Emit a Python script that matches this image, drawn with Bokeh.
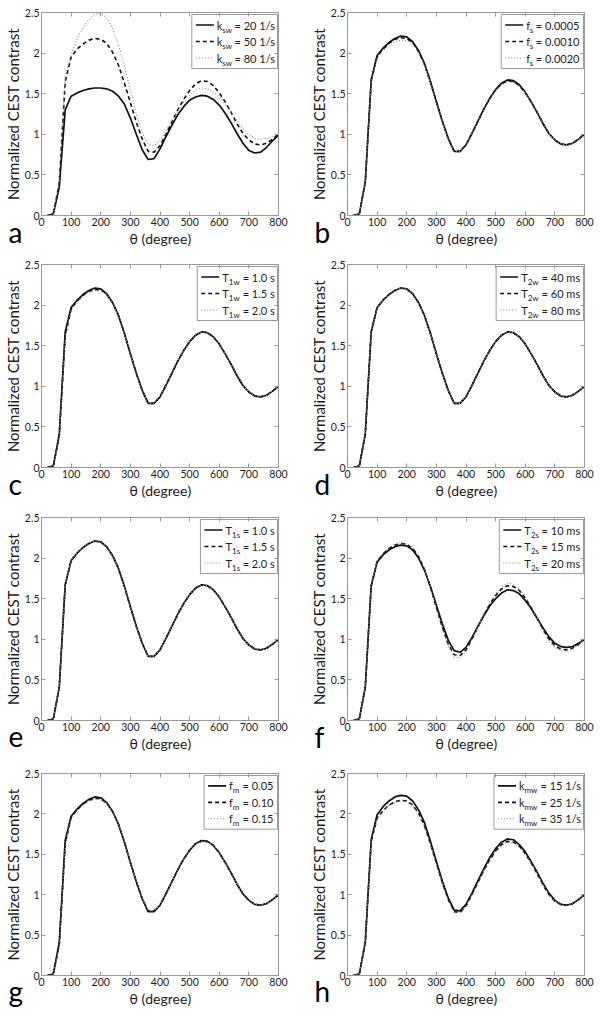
from bokeh.plotting import figure
from bokeh.layouts import column, row
from bokeh.models import Range1d, FixedTicker, LinearAxis, Label, CustomJSTickFormatter
from bokeh.core.properties import value
from bokeh.embed import file_html
from bokeh.resources import INLINE

# ---------------- data ----------------
theta = [20, 40, 60, 80, 100, 120, 140, 160, 180, 200, 220, 240, 260, 280, 300, 320, 340, 360, 380, 400,
         420, 440, 460, 480, 500, 520, 540, 560, 580, 600, 620, 640, 660, 680, 700, 720, 740, 760, 780, 800]

x_ticks = [0, 100, 200, 300, 400, 500, 600, 700, 800]
y_ticks = [0, 0.5, 1, 1.5, 2, 2.5]

base = [0.00, 0.02, 0.41, 1.67, 1.97, 2.06, 2.13, 2.18, 2.21, 2.20, 2.14, 2.03, 1.87, 1.65, 1.40, 1.16, 0.95, 0.79, 0.79, 0.87,
        1.01, 1.16, 1.31, 1.44, 1.55, 1.63, 1.67, 1.66, 1.61, 1.52, 1.40, 1.27, 1.13, 1.01, 0.93, 0.88, 0.87, 0.89, 0.94, 1.00]

# (a) k_sw
a_k20 = [0.00, 0.02, 0.35, 1.30, 1.47, 1.51, 1.54, 1.56, 1.57, 1.57, 1.56, 1.53, 1.47, 1.37, 1.20, 1.00, 0.81, 0.69, 0.70, 0.82,
         0.97, 1.11, 1.24, 1.34, 1.42, 1.46, 1.48, 1.47, 1.43, 1.36, 1.26, 1.14, 1.01, 0.89, 0.80, 0.77, 0.78, 0.84, 0.92, 0.99]
a_k50 = [0.00, 0.02, 0.40, 1.65, 1.95, 2.05, 2.11, 2.16, 2.18, 2.17, 2.12, 2.01, 1.85, 1.63, 1.39, 1.15, 0.94, 0.79, 0.78, 0.86,
         1.00, 1.15, 1.30, 1.43, 1.54, 1.62, 1.66, 1.65, 1.60, 1.51, 1.40, 1.27, 1.13, 1.01, 0.93, 0.88, 0.87, 0.89, 0.94, 1.00]
a_k80 = [0.00, 0.02, 0.42, 1.72, 1.98, 2.18, 2.31, 2.41, 2.48, 2.49, 2.44, 2.31, 2.10, 1.84, 1.54, 1.25, 1.02, 0.88, 0.86, 0.92,
         1.04, 1.17, 1.29, 1.40, 1.48, 1.54, 1.57, 1.56, 1.52, 1.46, 1.37, 1.27, 1.17, 1.07, 1.00, 0.95, 0.94, 0.95, 0.97, 1.00]

# (b) f_s
b_1 = base
b_2 = [0.00, 0.02, 0.41, 1.66, 1.96, 2.05, 2.12, 2.17, 2.19, 2.18, 2.13, 2.02, 1.86, 1.64, 1.40, 1.16, 0.95, 0.79, 0.79, 0.87,
       1.01, 1.16, 1.31, 1.44, 1.55, 1.62, 1.66, 1.65, 1.60, 1.51, 1.40, 1.27, 1.13, 1.01, 0.93, 0.88, 0.87, 0.89, 0.94, 1.00]
b_3 = [0.00, 0.02, 0.40, 1.64, 1.94, 2.03, 2.09, 2.14, 2.16, 2.15, 2.11, 2.01, 1.85, 1.63, 1.39, 1.15, 0.95, 0.79, 0.79, 0.87,
       1.01, 1.15, 1.30, 1.43, 1.54, 1.61, 1.65, 1.64, 1.59, 1.51, 1.39, 1.27, 1.13, 1.01, 0.93, 0.88, 0.87, 0.89, 0.94, 1.00]

# (c) T_1w
c_1 = base
c_2 = [0.00, 0.02, 0.38, 1.62, 1.95, 2.05, 2.12, 2.17, 2.19, 2.19, 2.13, 2.03, 1.87, 1.65, 1.40, 1.16, 0.95, 0.79, 0.79, 0.87,
       1.01, 1.16, 1.31, 1.44, 1.55, 1.63, 1.67, 1.66, 1.61, 1.52, 1.40, 1.27, 1.13, 1.01, 0.93, 0.88, 0.87, 0.89, 0.94, 1.00]
c_3 = [0.00, 0.02, 0.36, 1.60, 1.94, 2.04, 2.11, 2.16, 2.18, 2.18, 2.13, 2.02, 1.86, 1.65, 1.40, 1.16, 0.95, 0.79, 0.79, 0.87,
       1.01, 1.16, 1.31, 1.44, 1.55, 1.63, 1.67, 1.66, 1.61, 1.52, 1.40, 1.27, 1.13, 1.01, 0.93, 0.88, 0.87, 0.89, 0.94, 1.00]

# (d) T_2w  (curves coincide)
d_1 = base
d_2 = base
d_3 = base

# (e) T_1s  (curves coincide)
e_1 = base
e_2 = base
e_3 = base

# (f) T_2s
f_1 = [0.00, 0.02, 0.41, 1.66, 1.95, 2.04, 2.10, 2.14, 2.16, 2.15, 2.10, 2.00, 1.85, 1.65, 1.42, 1.19, 0.99, 0.86, 0.84, 0.90,
       1.02, 1.16, 1.29, 1.41, 1.50, 1.57, 1.61, 1.60, 1.56, 1.48, 1.38, 1.26, 1.14, 1.03, 0.95, 0.91, 0.90, 0.91, 0.95, 1.00]
f_2 = [0.00, 0.02, 0.41, 1.66, 1.96, 2.05, 2.12, 2.16, 2.18, 2.17, 2.12, 2.02, 1.86, 1.64, 1.39, 1.15, 0.94, 0.81, 0.80, 0.87,
       1.00, 1.15, 1.30, 1.43, 1.54, 1.62, 1.66, 1.65, 1.60, 1.51, 1.39, 1.26, 1.12, 1.00, 0.92, 0.88, 0.87, 0.89, 0.94, 1.00]
f_3 = [0.00, 0.02, 0.41, 1.67, 1.97, 2.06, 2.13, 2.17, 2.19, 2.18, 2.13, 2.03, 1.87, 1.64, 1.38, 1.13, 0.92, 0.78, 0.77, 0.85,
       0.99, 1.15, 1.31, 1.45, 1.56, 1.64, 1.69, 1.68, 1.62, 1.53, 1.40, 1.26, 1.11, 0.98, 0.90, 0.86, 0.85, 0.88, 0.93, 1.00]

# (g) f_m
g_1 = base
g_2 = [0.00, 0.02, 0.38, 1.63, 1.96, 2.05, 2.12, 2.17, 2.19, 2.19, 2.13, 2.03, 1.87, 1.65, 1.40, 1.16, 0.95, 0.80, 0.80, 0.87,
       1.01, 1.16, 1.31, 1.44, 1.55, 1.63, 1.66, 1.66, 1.61, 1.52, 1.40, 1.27, 1.13, 1.01, 0.93, 0.88, 0.87, 0.89, 0.94, 1.00]
g_3 = [0.00, 0.02, 0.35, 1.60, 1.95, 2.04, 2.11, 2.16, 2.18, 2.18, 2.13, 2.03, 1.87, 1.65, 1.40, 1.16, 0.95, 0.81, 0.80, 0.88,
       1.01, 1.16, 1.31, 1.44, 1.55, 1.62, 1.66, 1.65, 1.61, 1.52, 1.40, 1.27, 1.13, 1.01, 0.93, 0.88, 0.87, 0.89, 0.94, 1.00]

# (h) k_mw
h_1 = [0.00, 0.02, 0.41, 1.68, 1.99, 2.09, 2.16, 2.21, 2.23, 2.22, 2.16, 2.05, 1.89, 1.66, 1.41, 1.17, 0.96, 0.81, 0.80, 0.88,
       1.02, 1.17, 1.32, 1.46, 1.57, 1.65, 1.69, 1.68, 1.62, 1.53, 1.41, 1.28, 1.14, 1.02, 0.93, 0.88, 0.87, 0.89, 0.94, 1.00]
h_2 = [0.00, 0.02, 0.41, 1.66, 1.95, 2.04, 2.11, 2.15, 2.17, 2.16, 2.11, 2.01, 1.85, 1.63, 1.39, 1.15, 0.94, 0.79, 0.78, 0.86,
       1.00, 1.15, 1.30, 1.43, 1.54, 1.62, 1.66, 1.65, 1.60, 1.51, 1.39, 1.26, 1.12, 1.00, 0.92, 0.88, 0.87, 0.89, 0.94, 1.00]
h_3 = [0.00, 0.02, 0.41, 1.65, 1.94, 2.03, 2.10, 2.14, 2.16, 2.15, 2.10, 2.00, 1.84, 1.62, 1.38, 1.14, 0.93, 0.78, 0.78, 0.86,
       0.99, 1.14, 1.29, 1.42, 1.53, 1.61, 1.65, 1.64, 1.59, 1.50, 1.39, 1.26, 1.12, 1.00, 0.92, 0.87, 0.87, 0.89, 0.94, 1.00]

panel_letters = ["a", "b", "c", "d", "e", "f", "g", "h"]
panel_series = [[a_k20, a_k50, a_k80], [b_1, b_2, b_3], [c_1, c_2, c_3], [d_1, d_2, d_3],
                [e_1, e_2, e_3], [f_1, f_2, f_3], [g_1, g_2, g_3], [h_1, h_2, h_3]]
legend_main = ["k", "f", "T", "T", "T", "T", "f", "k"]
legend_sub = ["sw", "s", "1w", "2w", "1s", "2s", "m", "mw"]
legend_rest = [["= 20 1/s", "= 50 1/s", "= 80 1/s"],
               ["= 0.0005", "= 0.0010", "= 0.0020"],
               ["= 1.0 s", "= 1.5 s", "= 2.0 s"],
               ["= 40 ms", "= 60 ms", "= 80 ms"],
               ["= 1.0 s", "= 1.5 s", "= 2.0 s"],
               ["= 10 ms", "= 15 ms", "= 20 ms"],
               ["= 0.05", "= 0.10", "= 0.15"],
               ["= 15 1/s", "= 25 1/s", "= 35 1/s"]]

x_label = "θ (degree)"
y_label = "Normalized CEST contrast"

# ---------------- styling ----------------
FONT = "Lato"
AX = "#9a9a9a"
TXT = "#1c1c1c"
X_MAX, Y_MAX = 800, 2.5
FW, FH = 237, 203
LEG_FS, SUB_FS = 11, 8

styles = [dict(line_color="#111111", line_width=1.7),
          dict(line_color="#111111", line_width=1.6, line_dash="4 3"),
          dict(line_color="#8a8a8a", line_width=1.1, line_dash="1 2")]

EM = {' ': 0.193, '=': 0.58, '.': 0.21, '/': 0.37, 's': 0.376, 'm': 0.856, 'k': 0.5,
      'f': 0.326, 'T': 0.598, 'w': 0.776}


def tw(s, fs):
    return sum(EM.get(ch, 0.58) for ch in s) * fs


def dx(px):
    return px * X_MAX / FW


def dy(px):
    return px * Y_MAX / FH


def style_axis(ax):
    ax.axis_line_color = AX
    ax.axis_line_width = 1
    ax.major_tick_line_color = AX
    ax.major_tick_in = 4
    ax.major_tick_out = 0
    ax.minor_tick_line_color = None
    ax.major_label_text_font = FONT
    ax.major_label_text_font_size = "10.5px"
    ax.major_label_text_color = TXT
    ax.major_label_standoff = 2
    ax.axis_label_text_font = FONT
    ax.axis_label_text_font_size = "14px"
    ax.axis_label_text_font_style = "normal"
    ax.axis_label_text_color = TXT
    ax.axis_label_standoff = 1


tops = [12, 5, 5, 5]
bottoms = [44, 45, 48, 33]


def make_panel(i):
    col = i % 2
    r = i // 2
    left_b = 41 if col == 0 else 47
    right_b = 22 if col == 0 else 17
    top_b = tops[r]
    bot_b = bottoms[r]
    p = figure(width=left_b + FW + right_b, height=top_b + FH + bot_b,
               x_range=Range1d(0, X_MAX), y_range=Range1d(0, Y_MAX),
               output_backend="svg", toolbar_location=None,
               min_border_left=left_b, min_border_right=right_b,
               min_border_top=top_b, min_border_bottom=bot_b,
               x_axis_label=x_label, y_axis_label=y_label)
    p.outline_line_color = None
    p.xgrid.visible = False
    p.ygrid.visible = False
    p.background_fill_color = "white"
    p.border_fill_color = "white"

    p.xaxis.ticker = FixedTicker(ticks=x_ticks)
    p.yaxis.ticker = FixedTicker(ticks=y_ticks)
    p.yaxis.formatter = CustomJSTickFormatter(code="return tick.toString();")
    for ax in list(p.xaxis) + list(p.yaxis):
        style_axis(ax)
    p.yaxis.axis_label_text_font_size = "15px"
    p.yaxis.axis_label_standoff = 0

    for loc, tk in (("above", x_ticks), ("right", y_ticks)):
        ax = LinearAxis(ticker=FixedTicker(ticks=tk),
                        formatter=CustomJSTickFormatter(code="return '';"))
        style_axis(ax)
        ax.major_label_text_font_size = "1px"
        ax.major_label_standoff = 0
        p.add_layout(ax, loc)

    # data lines
    for ys, st in zip(panel_series[i], styles):
        p.line(theta, ys, **st)

    # legend (box, samples, texts with subscripts)
    main, sub, rests = legend_main[i], legend_sub[i], legend_rest[i]
    mw = tw(main, LEG_FS)
    sw = tw(sub, SUB_FS)
    rw = max(tw(t, LEG_FS) for t in rests)
    bw = 4 + 18 + 3 + mw + sw + 3 + rw + 5
    bh = 54
    bl = FW - 1 - bw
    bt = 2
    p.quad(left=dx(bl), right=dx(FW - 1), top=Y_MAX - dy(bt), bottom=Y_MAX - dy(bt + bh),
           fill_color="white", line_color=AX, line_width=1)
    for k, (st, txt) in enumerate(zip(styles, rests)):
        cy = bt + 10.5 + 16.5 * k
        p.line([dx(bl + 4), dx(bl + 22)], [Y_MAX - dy(cy), Y_MAX - dy(cy)], **st)
        tx = bl + 25
        p.add_layout(Label(x=dx(tx), y=Y_MAX - dy(cy), text=main, text_font=FONT,
                           text_font_size=f"{LEG_FS}px", text_color=TXT, text_baseline="middle"))
        p.add_layout(Label(x=dx(tx + mw), y=Y_MAX - dy(cy + 4.5), text=sub, text_font=FONT,
                           text_font_size=f"{SUB_FS}px", text_color=TXT, text_baseline="middle"))
        p.add_layout(Label(x=dx(tx + mw + sw + 3), y=Y_MAX - dy(cy), text=txt, text_font=FONT,
                           text_font_size=f"{LEG_FS}px", text_color=TXT, text_baseline="middle"))

    # panel letter (overlay level, drawn outside the frame)
    p.text(x=[-dx(33)], y=[-dy(16)], text=[panel_letters[i]], text_font=value(FONT),
           text_font_size="28px", text_color="#000000", text_baseline="alphabetic",
           text_align="left", level="overlay")
    return p


figs = [make_panel(i) for i in range(8)]
layout = column(row(figs[0], figs[1]), row(figs[2], figs[3]),
                row(figs[4], figs[5]), row(figs[6], figs[7]))

open("out.html", "w").write(file_html(layout, INLINE))
